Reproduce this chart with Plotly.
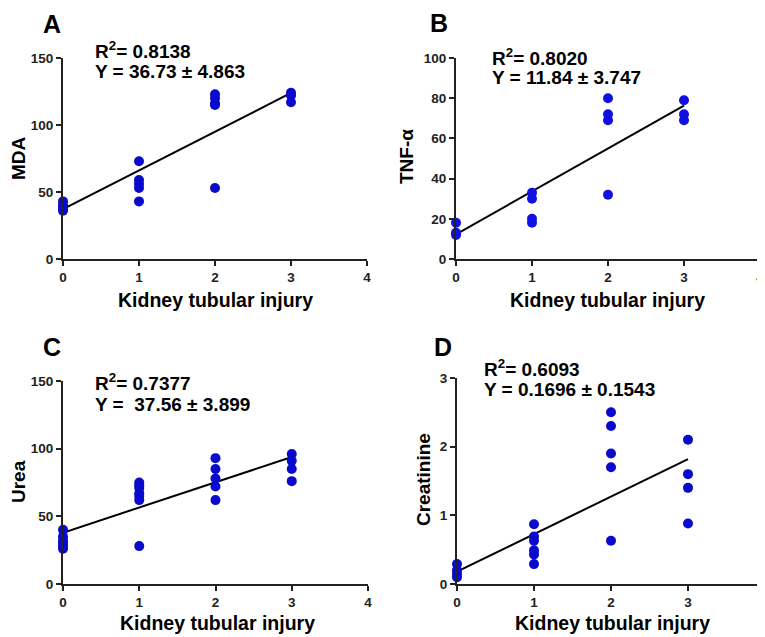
import plotly.graph_objects as go

# the page body has an 8px default margin; the figure is sized to fill the rest
OFF = 8
PAGE_W, PAGE_H = 765, 637
W, H = PAGE_W - OFF, PAGE_H - OFF

# ---------------- data ----------------
mda_x = [0, 0, 0, 0, 1, 1, 1, 1, 1, 2, 2, 2, 2, 2, 3, 3, 3]
mda_y = [43, 40, 38, 36, 73, 59, 56, 53, 43, 123, 120, 116, 115, 53, 124, 122, 117]
mda_fit = [37.3, 123.9]          # fitted line at x=0 and x=3

tnf_x = [0, 0, 0, 1, 1, 1, 1, 2, 2, 2, 2, 3, 3, 3]
tnf_y = [18, 13, 12, 33, 30, 20, 18, 80, 72, 69, 32, 79, 72, 69]
tnf_fit = [12.3, 76.3]

urea_x = [0, 0, 0, 0, 0, 0, 1, 1, 1, 1, 1, 1, 1, 2, 2, 2, 2, 2, 3, 3, 3, 3]
urea_y = [40, 35, 32, 30, 28, 26, 75, 73, 71, 67, 65, 62, 28, 93, 85, 78, 72, 62, 96, 91, 85, 76]
urea_fit = [37.9, 93.8]

creat_x = [0, 0, 0, 0, 1, 1, 1, 1, 1, 1, 2, 2, 2, 2, 2, 3, 3, 3, 3]
creat_y = [0.29, 0.2, 0.15, 0.1, 0.87, 0.69, 0.63, 0.49, 0.43, 0.29,
           2.5, 2.3, 1.9, 1.7, 0.63, 2.1, 1.6, 1.4, 0.88]
creat_fit = [0.18, 1.82]

fit_x = [0, 3]

panel_letters = ["A", "B", "C", "D"]
y_titles = ["MDA", "TNF-α", "Urea", "Creatinine"]
x_title = "Kidney tubular injury"
r2_texts = ["R<sup>2</sup>= 0.8138", "R<sup>2</sup>= 0.8020", "R<sup>2</sup>= 0.7377", "R<sup>2</sup>= 0.6093"]
eq_texts = ["Y = 36.73 ± 4.863", "Y = 11.84 ± 3.747", "Y =  37.56 ± 3.899", "Y = 0.1696 ± 0.1543"]
y_ranges = [[0, 150], [0, 100], [0, 150], [0, 3]]
y_ticks = [[0, 50, 100, 150], [0, 20, 40, 60, 80, 100], [0, 50, 100, 150], [0, 1, 2, 3]]
x_ticks = [0, 1, 2, 3, 4]

# ---------------- layout helpers (page-pixel geometry) ----------------
def px_x(p):
    return (p - OFF) / W

def px_y(p):
    return 1 - (p - OFF) / H

# plot areas: (left, right, top, bottom) in page pixels
areas = [
    (63, 367, 58, 259),
    (456, 760, 58, 259),
    (63, 368, 381, 584),
    (457, 765, 378, 584),
]
letter_pos = [(52, 24), (439, 23), (52, 347), (443, 347)]
ytitle_pos = [(18, 158), (407, 157), (18, 482), (423, 480)]
xtitle_pos = [(215, 300), (607, 300), (217, 623), (612, 623)]
r2_pos = [(93, 50), (490, 57), (93, 382), (482, 368)]
eq_pos = [(93, 72), (490, 77), (93, 404), (482, 390)]

dot_colors = ["#0a0acd", "#1010e0", "#0a0acd", "#0a0acd"]

series = [
    (mda_x, mda_y, mda_fit),
    (tnf_x, tnf_y, tnf_fit),
    (urea_x, urea_y, urea_fit),
    (creat_x, creat_y, creat_fit),
]

FONT = "Liberation Sans, Arial, sans-serif"

fig = go.Figure()
annotations = []
layout_axes = {}

for i, (sx, sy, sfit) in enumerate(series):
    n = i + 1
    xa = "x" if n == 1 else f"x{n}"
    ya = "y" if n == 1 else f"y{n}"
    fig.add_trace(go.Scatter(
        x=fit_x, y=sfit, mode="lines",
        line=dict(color="black", width=2),
        xaxis=xa, yaxis=ya, showlegend=False, hoverinfo="skip",
        cliponaxis=False,
    ))
    fig.add_trace(go.Scatter(
        x=sx, y=sy, mode="markers",
        marker=dict(color=dot_colors[i], size=10, line=dict(width=0)),
        xaxis=xa, yaxis=ya, showlegend=False, cliponaxis=False,
    ))

    l, r, t, b = areas[i]
    axis_common = dict(
        showline=True, linecolor="#222222", linewidth=2,
        ticks="outside", ticklen=5, tickwidth=2, tickcolor="#222222",
        showgrid=False, zeroline=False, automargin=False,
        tickfont=dict(family=FONT, size=13.5, color="#222222", weight="bold"),
    )
    layout_axes["xaxis" if n == 1 else f"xaxis{n}"] = dict(
        domain=[px_x(l), min(px_x(r), 1.0)], range=[0, 4],
        tickvals=x_ticks, anchor=ya, **axis_common,
    )
    layout_axes["yaxis" if n == 1 else f"yaxis{n}"] = dict(
        domain=[px_y(b), px_y(t)], range=y_ranges[i],
        tickvals=y_ticks[i], anchor=xa, **axis_common,
    )

    lx, ly = letter_pos[i]
    annotations.append(dict(
        text=panel_letters[i], x=px_x(lx), y=px_y(ly), xref="paper", yref="paper",
        xanchor="center", yanchor="middle", showarrow=False,
        font=dict(family=FONT, size=25, color="black", weight="bold"),
    ))
    tx, ty = ytitle_pos[i]
    annotations.append(dict(
        text=y_titles[i], x=px_x(tx), y=px_y(ty), xref="paper", yref="paper",
        xanchor="center", yanchor="middle", showarrow=False, textangle=-90,
        font=dict(family=FONT, size=19, color="black", weight="bold"),
    ))
    tx, ty = xtitle_pos[i]
    annotations.append(dict(
        text=x_title, x=px_x(tx), y=px_y(ty), xref="paper", yref="paper",
        xanchor="center", yanchor="middle", showarrow=False,
        font=dict(family=FONT, size=19.5, color="black", weight="bold"),
    ))
    rx, ry = r2_pos[i]
    annotations.append(dict(
        text=r2_texts[i], x=px_x(rx), y=px_y(ry), xref="paper", yref="paper",
        xanchor="left", yanchor="middle", showarrow=False,
        font=dict(family=FONT, size=19, color="black", weight="bold"),
    ))
    ex, ey = eq_pos[i]
    annotations.append(dict(
        text=eq_texts[i], x=px_x(ex), y=px_y(ey), xref="paper", yref="paper",
        xanchor="left", yanchor="middle", showarrow=False,
        font=dict(family=FONT, size=19, color="black", weight="bold"),
    ))

fig.update_layout(
    width=W, height=H,
    margin=dict(l=0, r=0, t=0, b=0, autoexpand=False),
    paper_bgcolor="white", plot_bgcolor="white",
    annotations=annotations,
    **layout_axes,
)

fig.write_html("out.html")
